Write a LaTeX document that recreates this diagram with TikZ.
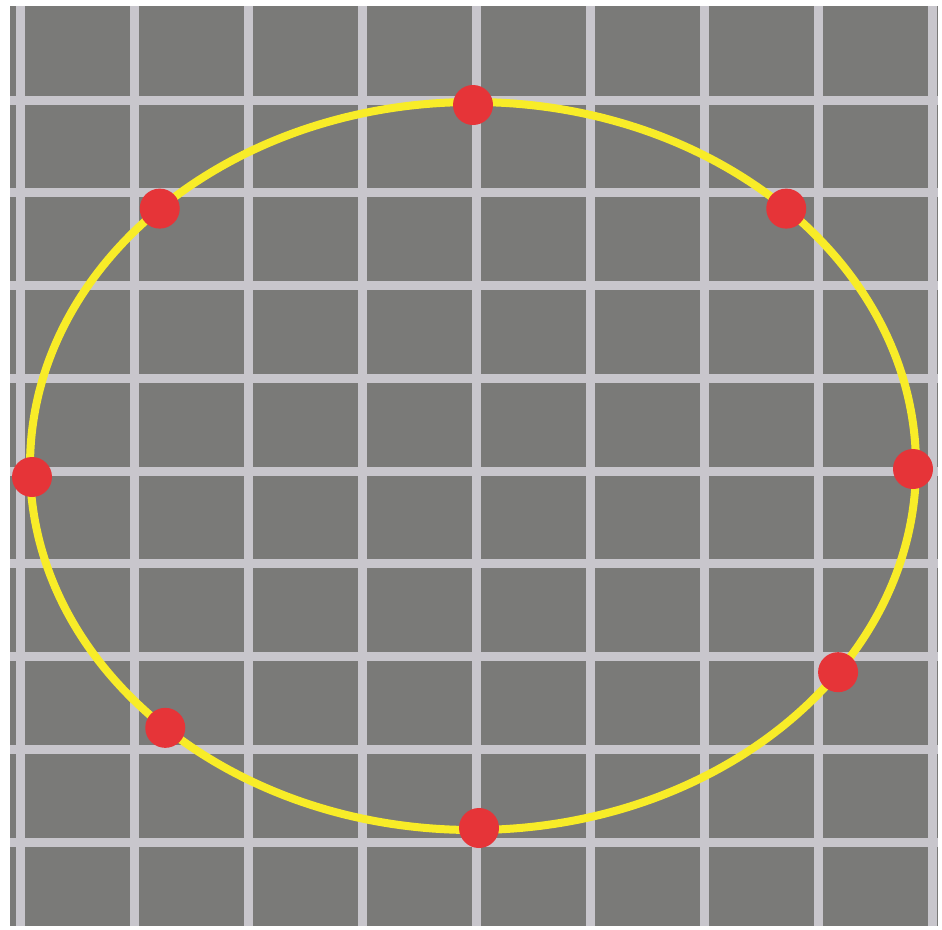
\documentclass[tikz,border=0pt]{standalone}
\usetikzlibrary{calc}
\definecolor{bggray}{RGB}{122,122,120}
\definecolor{gridgray}{RGB}{200,198,204}
\definecolor{ringyellow}{RGB}{248,236,40}
\definecolor{dotred}{RGB}{230,52,56}
\tikzset{
  gridline/.style={draw=gridgray,line width=9pt},
  ring/.style={draw=ringyellow,line width=8pt},
  dotmark/.style={circle,fill=dotred,minimum size=40pt,inner sep=0pt,draw=none}
}
\begin{document}
\begin{tikzpicture}[x=1pt,y=-1pt]
\useasboundingbox (0,0) rectangle (942,929);
\fill[white] (0,0) rectangle (942,929);
\fill[bggray] (10,6) rectangle (938,926);
\begin{scope}
\clip (10,6) rectangle (938,926);
\foreach \i in {0,...,8} {
  \draw[gridline] ({20+114.1*\i},6) -- ({20+114.1*\i},926);
  \draw[gridline] (10,{100+92.75*\i}) -- (938,{100+92.75*\i});
}
\end{scope}
\coordinate (c) at (473,466);
\draw[ring] (c) ellipse [x radius=443, y radius=364];
\node[dotmark] (top) at ($(c)+(0,-361)$) {};
\node[dotmark] (bottom) at ($(c)+(6,362)$) {};
\node[dotmark] (left) at ($(c)+(-441,11)$) {};
\node[dotmark] (right) at ($(c)+(440,3)$) {};
\node[dotmark] (ul) at ($(c)+({443*cos(135)},{-364*sin(135)})$) {};
\node[dotmark] (ur) at ($(c)+({443*cos(45)},{-364*sin(45)})$) {};
\node[dotmark] (lr) at ($(c)+({443*cos(-34.5)},{-364*sin(-34.5)})$) {};
\node[dotmark] (ll) at ($(c)+({443*cos(-134)},{-364*sin(-134)})$) {};
\end{tikzpicture}
\end{document}
